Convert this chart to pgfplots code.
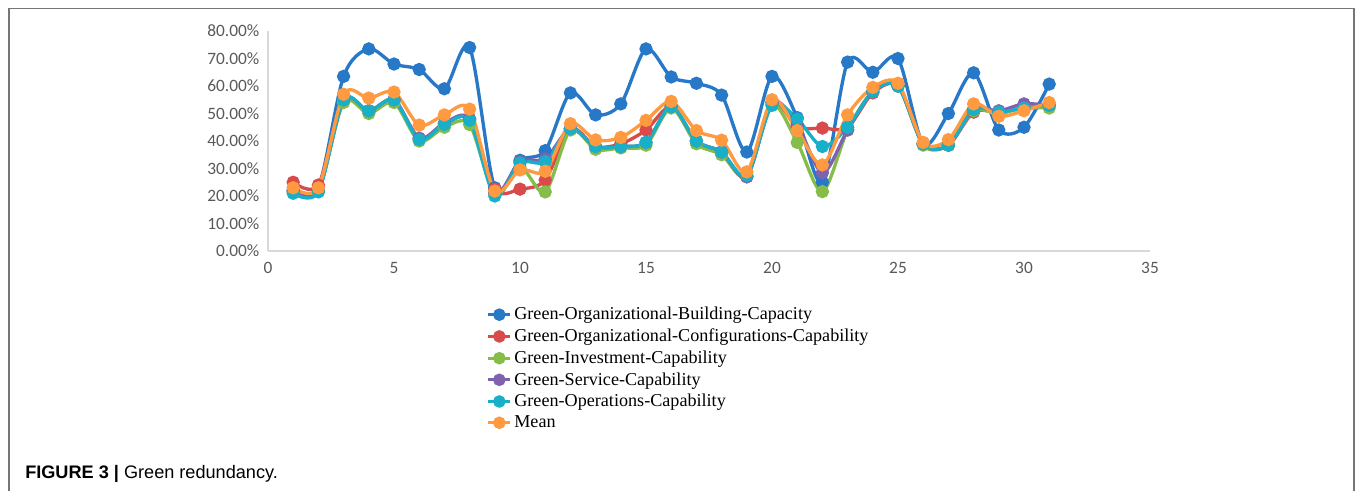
\documentclass[border=0pt]{standalone}
\usepackage{fontspec}
\setmainfont{Liberation Serif}
\newfontfamily\tickfont{Carlito}
\newfontfamily\capfont{Liberation Sans}
\usepackage{pgfplots}
\pgfplotsset{compat=1.18}
\definecolor{cblue}{HTML}{2878C8}
\definecolor{cred}{HTML}{D94A4A}
\definecolor{cgreen}{HTML}{86BC4A}
\definecolor{cpurple}{HTML}{8060B0}
\definecolor{ccyan}{HTML}{18B0C8}
\definecolor{corange}{HTML}{FF9A40}
\definecolor{tickgray}{HTML}{595959}
\definecolor{axgray}{HTML}{D9D9D9}
\definecolor{framegray}{HTML}{767676}
\begin{document}
\begin{tikzpicture}
\useasboundingbox (0,0) rectangle (1017.75pt,-367.5pt);
\draw[framegray, line width=1.2pt] (6.75pt,-368pt) -- (6.75pt,-6.375pt) -- (1015.5pt,-6.375pt) -- (1015.5pt,-368pt);
\begin{axis}[
  at={(201pt,-188.25pt)}, anchor=south west,
  scale only axis, width=661.5pt, height=165pt,
  xmin=0, xmax=35, ymin=0, ymax=80,
  axis lines=left, axis line style={-, draw=axgray, line width=1pt},
  major tick length=0pt,
  xtick={0,5,10,15,20,25,30,35},
  xticklabels={0,5,10,15,20,25,30,35},
  ytick={0,10,20,30,40,50,60,70,80},
  yticklabels={0.00\%,10.00\%,20.00\%,30.00\%,40.00\%,50.00\%,60.00\%,70.00\%,80.00\%},
  ticklabel style={font=\tickfont\fontsize{13}{15}\selectfont, text=tickgray},
  yticklabel style={xshift=-3pt},
  xticklabel style={yshift=-5pt},
  clip=false,
  every axis plot/.append style={line width=2.5pt, smooth, mark=*, mark size=3.7pt},
  legend image code/.code={\draw[mark repeat=2,mark phase=2,line width=2pt] plot coordinates {(0cm,0cm) (0.29cm,0cm) (0.58cm,0cm)};},
  legend style={at={(0.248,-0.243)}, anchor=north west, draw=none, fill=none,
    inner sep=0pt, font=\fontsize{13.6}{13.6}\selectfont, row sep=1.3pt},
  legend cell align=left,
]
\addplot[cblue, mark options={fill=cblue,draw=cblue}] coordinates {
(1,22)(2,23)(3,63.5)(4,73.5)(5,68)(6,66)(7,59)(8,74)(9,23)(10,33)(11,36.5)(12,57.5)(13,49.5)(14,53.5)(15,73.5)(16,63.3)(17,61)(18,56.7)(19,36)(20,63.5)(21,48.5)(22,25)(23,68.7)(24,65)(25,70)(26,39)(27,50)(28,64.8)(29,44)(30,45)(31,60.7)};
\addlegendentry{Green-Organizational-Building-Capacity}
\addplot[cred, mark options={fill=cred,draw=cred}] coordinates {
(1,25)(2,24)(3,54.5)(4,51)(5,55)(6,41)(7,46)(8,48)(9,22.5)(10,22.5)(11,25.8)(12,44.5)(13,38)(14,39)(15,44)(16,52.5)(17,40)(18,36)(19,27)(20,54)(21,45.2)(22,44.7)(23,45)(24,57.5)(25,60)(26,39)(27,38.5)(28,50.5)(29,50.5)(30,52)(31,53)};
\addlegendentry{Green-Organizational-Configurations-Capability}
\addplot[cgreen, mark options={fill=cgreen,draw=cgreen}] coordinates {
(1,21.5)(2,22)(3,54)(4,50)(5,54)(6,40)(7,45)(8,46)(9,21)(10,30.5)(11,21.5)(12,44)(13,37)(14,37.5)(15,38.5)(16,52)(17,39)(18,35)(19,27)(20,53)(21,39.5)(22,21.6)(23,44)(24,58)(25,60)(26,38.5)(27,38.5)(28,51)(29,50)(30,52)(31,52)};
\addlegendentry{Green-Investment-Capability}
\addplot[cpurple, mark options={fill=cpurple,draw=cpurple}] coordinates {
(1,22)(2,22)(3,55)(4,51)(5,55)(6,41)(7,46.5)(8,48)(9,21)(10,32.5)(11,33.5)(12,44.5)(13,38)(14,38)(15,39.5)(16,52.5)(17,40)(18,36)(19,27)(20,54)(21,46)(22,28.5)(23,44)(24,58)(25,60)(26,39)(27,38.5)(28,51.5)(29,51)(30,53.5)(31,53)};
\addlegendentry{Green-Service-Capability}
\addplot[ccyan, mark options={fill=ccyan,draw=ccyan}] coordinates {
(1,21)(2,21.5)(3,55)(4,51)(5,55)(6,40.5)(7,46)(8,47.5)(9,20)(10,32)(11,32.5)(12,44.5)(13,38)(14,38)(15,39.5)(16,52.5)(17,40)(18,36)(19,27.5)(20,53)(21,48)(22,38)(23,45)(24,58)(25,60)(26,39)(27,38.5)(28,51.5)(29,50.5)(30,52)(31,53)};
\addlegendentry{Green-Operations-Capability}
\addplot[corange, mark options={fill=corange,draw=corange}] coordinates {
(1,23)(2,23)(3,57)(4,55.6)(5,57.8)(6,45.8)(7,49.5)(8,51.6)(9,21.8)(10,29.5)(11,29)(12,46.3)(13,40.4)(14,41.3)(15,47.5)(16,54.4)(17,43.8)(18,40.3)(19,28.8)(20,55)(21,43.8)(22,31.3)(23,49.5)(24,59.5)(25,61)(26,39.5)(27,40.5)(28,53.5)(29,49)(30,51)(31,54)};
\addlegendentry{Mean}
\end{axis}
\node[anchor=base west, inner sep=0pt] at (18.75pt,-359pt) {\capfont\fontsize{13.6}{15}\selectfont\textbf{FIGURE 3 |} Green redundancy.};
\end{tikzpicture}
\end{document}
